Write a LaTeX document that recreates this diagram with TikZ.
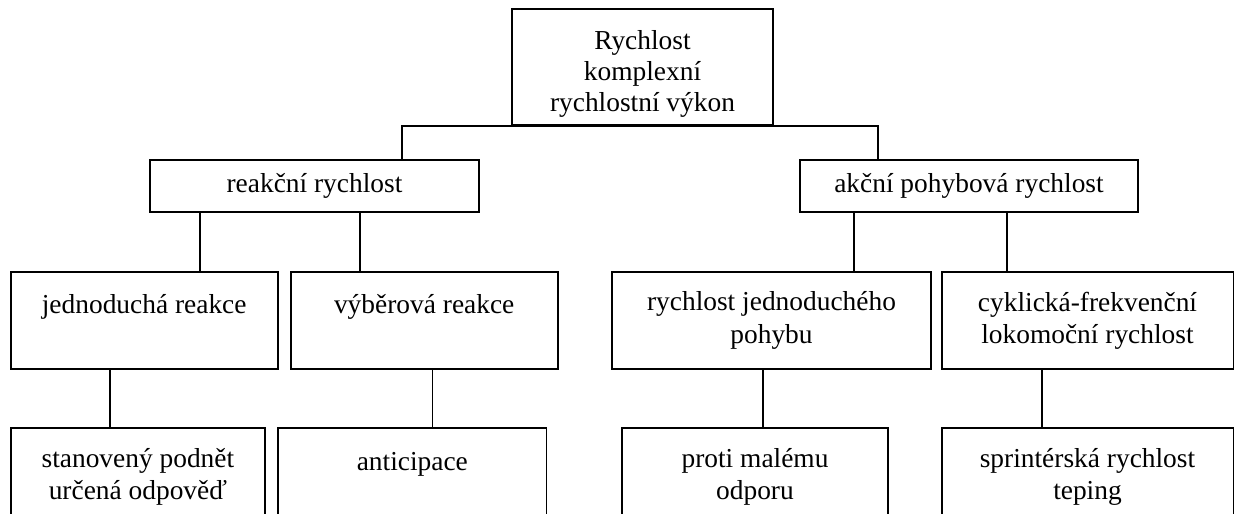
\documentclass[tikz,border=0pt]{standalone}
\usepackage{fontspec}
\setmainfont{Liberation Serif}

\begin{document}
\begin{tikzpicture}[
    x=0.02cm, y=-0.02cm,
    box/.style={rectangle, draw=black, line width=1.1pt, align=center, inner sep=0pt, minimum height=1.952cm, font=\fontsize{15.6}{18.4}\selectfont},
    headbox/.style={box, minimum height=1.04cm},
    link/.style={line width=1.1pt},
    ]
\path[use as bounding box, clip] (0,0) rectangle (1235,514);

\node[box, minimum width=5.22cm, minimum height=2.32cm, font=\fontsize{15.6}{17.9}\selectfont] (root) at (642.5,67) {\rule{0pt}{0.66cm}Rychlost\\komplexní\\rychlostní výkon};

\node[headbox, minimum width=6.58cm] (reakc) at (314.5,186) {reakční rychlost};
\node[headbox, minimum width=6.76cm] (akcni) at (969,186) {akční pohybová rychlost};

\node[box, minimum width=5.34cm] (jedn) at (144.2,320.5) {jednoduchá reakce\\\mbox{}};
\node[box, minimum width=5.34cm] (vyber) at (424.2,320.5) {výběrová reakce\\\mbox{}};
\node[box, minimum width=6.368cm] (rjp) at (771.5,320.5) {rychlost jednoduchého\\pohybu};
\node[box, minimum width=5.84cm] (cykl) at (1087.5,320.5) {cyklická-frekvenční\\lokomoční rychlost};

\node[box, minimum width=5.086cm] (stan) at (137.9,477.1) {stanovený podnět\\určená odpověď};
\node[box, minimum width=5.37cm] (antic) at (412.3,477.1) {anticipace\\\mbox{}};
\node[box, minimum width=5.336cm] (proti) at (755,477.1) {proti malému\\odporu};
\node[box, minimum width=5.84cm] (sprint) at (1087.5,477.1) {sprintérská rychlost\\teping};

\draw[link] (reakc.north -| 401.7,0) |- (root.south) -| (akcni.north -| 878.3,0);

\draw[link] (reakc.south -| 200,0) -- (jedn.north -| 200,0);
\draw[link] (reakc.south -| 360,0) -- (vyber.north -| 360,0);
\draw[link] (akcni.south -| 854,0) -- (rjp.north -| 854,0);
\draw[link] (akcni.south -| 1006.7,0) -- (cykl.north -| 1006.7,0);

\draw[link] (jedn.south -| 110,0) -- (stan.north -| 110,0);
\draw[link] (vyber.south -| 432.5,0) -- (antic.north -| 432.5,0);
\draw[link] (rjp.south -| 762.7,0) -- (proti.north -| 762.7,0);
\draw[link] (cykl.south -| 1041.7,0) -- (sprint.north -| 1041.7,0);

\end{tikzpicture}
\end{document}
